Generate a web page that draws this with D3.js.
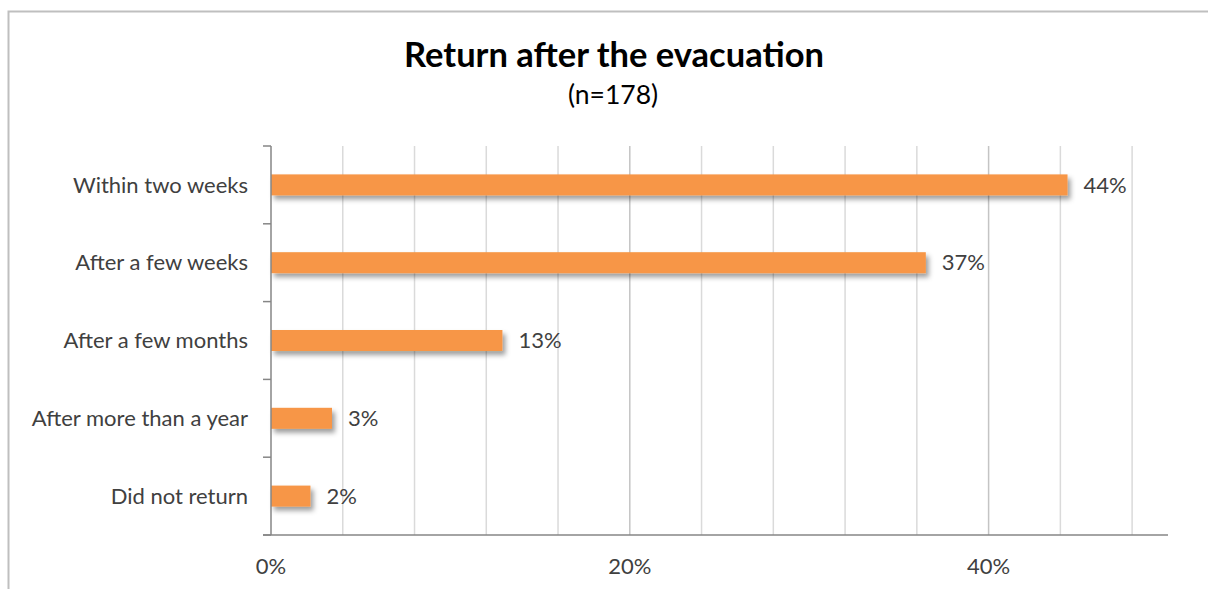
<!DOCTYPE html>
<html>
<head>
<meta charset="utf-8">
<script src="https://cdn.jsdelivr.net/npm/d3@7"></script>
<style>
  html, body { margin: 0; padding: 0; background: #fff; }
  svg { display: block; font-family: Lato, "Open Sans", sans-serif; }
</style>
</head>
<body>
<svg id="chart" width="1208" height="589"></svg>
<script>
// Survey responses: share of households by time of return
const categories = ["Within two weeks", "After a few weeks", "After a few months", "After more than a year", "Did not return"];
const shares = [0.444, 0.365, 0.129, 0.034, 0.022];
const tickValues = [0, 0.2, 0.4];
const gridValues = [0.04, 0.08, 0.12, 0.16, 0.2, 0.24, 0.28, 0.32, 0.36, 0.4, 0.44, 0.48];
const title = "Return after the evacuation";
const subtitle = "(n=178)";

const svg = d3.select("#chart");
const W = 1208, H = 589;
const plot = { left: 271, right: 1168, top: 146, bottom: 535 };
const labelSize = 22;
const textColor = "#404040";

// Outer frame: top and left edges
svg.append("path")
  .attr("d", `M8.5,${H} V11.5 H${W}`)
  .attr("fill", "none")
  .attr("stroke", "#bfbfbf")
  .attr("stroke-width", 2);

const defs = svg.append("defs");
const f = defs.append("filter").attr("id", "shadow")
  .attr("x", "-10%").attr("y", "-50%").attr("width", "130%").attr("height", "250%");
f.append("feDropShadow")
  .attr("dx", 3).attr("dy", 4).attr("stdDeviation", 2.5)
  .attr("flood-color", "#000").attr("flood-opacity", 0.38);

const x = d3.scaleLinear().domain([0, 0.5]).range([plot.left, plot.right]);
const y = d3.scaleBand().domain(categories).range([plot.top, plot.bottom]).paddingInner(0.73).paddingOuter(0.365);
const yTicks = d3.scaleBand().domain(categories).range([plot.top, plot.bottom]);

// Gridlines (darker at labelled ticks)
svg.append("g").selectAll("line").data(gridValues).join("line")
  .attr("x1", d => x(d)).attr("x2", d => x(d))
  .attr("y1", plot.top).attr("y2", plot.bottom)
  .attr("stroke", d => tickValues.some(t => Math.abs(t - d) < 1e-9) ? "#c4c4c4" : "#dadada")
  .attr("stroke-width", 1.5);

// Bars
svg.append("g").selectAll("rect").data(shares).join("rect")
  .attr("x", x(0))
  .attr("y", (d, i) => y(categories[i]))
  .attr("width", d => x(d) - x(0))
  .attr("height", y.bandwidth())
  .attr("fill", "#f79646")
  .attr("filter", "url(#shadow)");

// Value labels
const fmt = d3.format(".0%");
svg.append("g").selectAll("text").data(shares).join("text")
  .attr("x", d => x(d) + 16)
  .attr("y", (d, i) => y(categories[i]) + y.bandwidth() / 2)
  .attr("dy", "0.35em")
  .attr("fill", textColor)
  .attr("font-size", labelSize)
  .text(d => fmt(d));

// Category axis
const yAxis = svg.append("g").attr("transform", `translate(${plot.left},0)`);
yAxis.append("line")
  .attr("x1", 0).attr("x2", 0).attr("y1", plot.top).attr("y2", plot.bottom)
  .attr("stroke", "#868686").attr("stroke-width", 1.5);
const tickYs = categories.map(c => yTicks(c)).concat([plot.bottom]);
yAxis.selectAll("line.tick").data(tickYs).join("line").attr("class", "tick")
  .attr("x1", -8).attr("x2", 0).attr("y1", d => d).attr("y2", d => d)
  .attr("stroke", "#868686").attr("stroke-width", 1.5);
yAxis.selectAll("text").data(categories).join("text")
  .attr("x", -23)
  .attr("y", d => yTicks(d) + yTicks.bandwidth() / 2)
  .attr("dy", "0.35em")
  .attr("text-anchor", "end")
  .attr("fill", textColor)
  .attr("font-size", labelSize)
  .text(d => d);

// Value axis
const xAxis = svg.append("g").attr("transform", `translate(0,${plot.bottom})`);
xAxis.append("line")
  .attr("x1", plot.left - 8).attr("x2", plot.right).attr("y1", 0).attr("y2", 0)
  .attr("stroke", "#868686").attr("stroke-width", 1.5);
xAxis.selectAll("text").data(tickValues).join("text")
  .attr("x", d => x(d))
  .attr("y", 39)
  .attr("text-anchor", "middle")
  .attr("fill", textColor)
  .attr("font-size", labelSize)
  .text(d => d3.format(".0%")(d));

// Titles
svg.append("text")
  .attr("x", 614).attr("y", 67)
  .attr("text-anchor", "middle")
  .attr("font-weight", "bold")
  .attr("font-size", 34.5)
  .attr("fill", "#000")
  .text(title);
svg.append("text")
  .attr("x", 613).attr("y", 104)
  .attr("text-anchor", "middle")
  .attr("font-size", 26.5)
  .attr("fill", "#000")
  .text(subtitle);
</script>
</body>
</html>
